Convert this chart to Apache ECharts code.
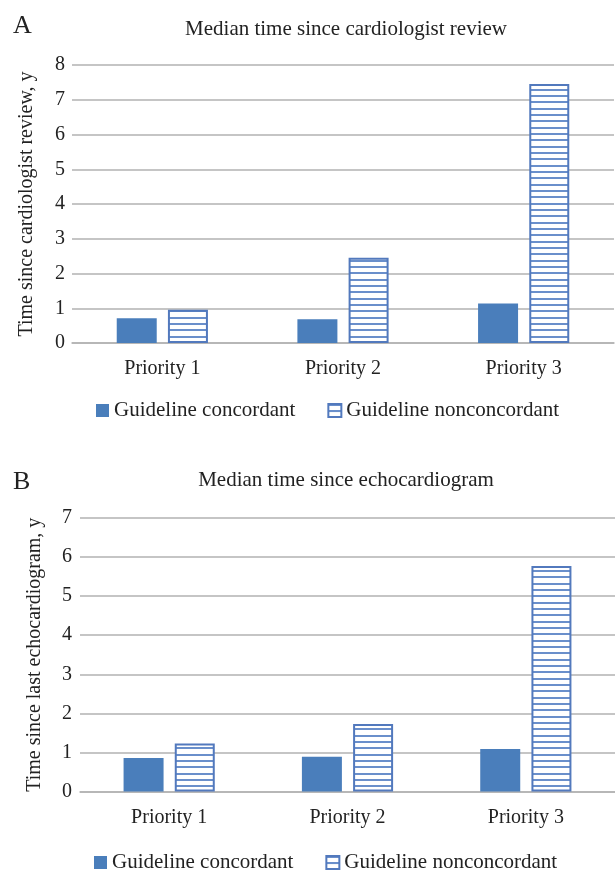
<!DOCTYPE html>
<html>
<head>
<meta charset="utf-8">
<script src="https://cdn.jsdelivr.net/npm/echarts@6/dist/echarts.min.js"></script>
<style>
html,body{margin:0;padding:0;background:#fff;}
#c{width:615px;height:874px;}
</style>
</head>
<body>
<div id="c"></div>
<script>
// ---- data ----
var categories = ['Priority 1', 'Priority 2', 'Priority 3'];
var seriesNames = ['Guideline concordant', 'Guideline nonconcordant'];
var cardioConcordant = [0.71, 0.68, 1.14];
var cardioNonconcordant = [0.96, 2.45, 7.45];
var echoConcordant = [0.86, 0.89, 1.09];
var echoNonconcordant = [1.23, 1.73, 5.77];
var cardioTicks = [0, 8, 1];   // min, max, interval
var echoTicks = [0, 7, 1];
var titleA = 'Median time since cardiologist review';
var titleB = 'Median time since echocardiogram';
var yNameA = 'Time since cardiologist review, y';
var yNameB = 'Time since last echocardiogram, y';

// ---- styles ----
var FONT = '"Liberation Serif", "DejaVu Serif", serif';
var BLUE = '#4a7ebb';
var LINE_BLUE = '#5279bd';
var GRID = '#b2b2b2';
var TXT = '#222';

function hatch() {
  var cv = document.createElement('canvas');
  cv.width = 8; cv.height = 19;
  var ctx = cv.getContext('2d');
  ctx.fillStyle = '#ffffff';
  ctx.fillRect(0, 0, 8, 19);
  ctx.fillStyle = '#6a8fcb';
  ctx.fillRect(0, 0, 8, 2);
  ctx.fillRect(0, 6, 8, 2);
  ctx.fillRect(0, 13, 8, 2);
  return cv;
}
var pattern = {image: hatch(), repeat: 'repeat'};

function yAxis(idx, ticks, name, margin) {
  return {
    type: 'value', gridIndex: idx, min: ticks[0], max: ticks[1], interval: ticks[2],
    name: name, nameLocation: 'middle', nameGap: 35, nameRotate: 90,
    nameTextStyle: {fontFamily: FONT, fontSize: 20, color: TXT},
    axisLine: {show: false}, axisTick: {show: false},
    axisLabel: {fontFamily: FONT, fontSize: 20, color: TXT, margin: margin},
    splitLine: {show: true, lineStyle: {color: GRID, width: 1.5}}
  };
}
function xAxis(idx, margin) {
  return {
    type: 'category', gridIndex: idx, data: categories,
    axisLine: {show: true, lineStyle: {color: GRID, width: 1.5}},
    axisTick: {show: false},
    axisLabel: {fontFamily: FONT, fontSize: 20, color: TXT, margin: margin}
  };
}
function barSeries(idx, name, data, hatched) {
  return {
    type: 'bar', name: name, xAxisIndex: idx, yAxisIndex: idx, data: data,
    barWidth: 40, barGap: '28%',
    itemStyle: hatched ? {color: pattern, borderColor: LINE_BLUE, borderWidth: 2}
                       : {color: BLUE},
    emphasis: {disabled: true}, silent: true, animation: false
  };
}
function legend(left, top) {
  return {
    left: left, top: top, itemWidth: 13, itemHeight: 13, itemGap: 32,
    icon: 'rect',
    data: [{name: seriesNames[0]}, {name: seriesNames[1]}],
    textStyle: {fontFamily: FONT, fontSize: 21, color: TXT},
    selectedMode: false
  };
}

var chart = echarts.init(document.getElementById('c'), null, {renderer: 'canvas'});
var option = {
  animation: false,
  backgroundColor: '#fff',
  title: [
    {text: titleA, left: 341, top: 14, textAlign: 'center',
     textStyle: {fontFamily: FONT, fontSize: 21, fontWeight: 'normal', color: TXT}},
    {text: titleB, left: 341, top: 465, textAlign: 'center',
     textStyle: {fontFamily: FONT, fontSize: 21, fontWeight: 'normal', color: TXT}},
    {text: 'A', left: 8, top: 8,
     textStyle: {fontFamily: FONT, fontSize: 26, fontWeight: 'normal', color: TXT}},
    {text: 'B', left: 8, top: 464,
     textStyle: {fontFamily: FONT, fontSize: 26, fontWeight: 'normal', color: TXT}}
  ],
  grid: [
    {left: 72, right: 1, top: 65, height: 278},
    {left: 80, right: -8, top: 518, height: 273.5}
  ],
  xAxis: [xAxis(0, 16), xAxis(1, 16)],
  yAxis: [yAxis(0, cardioTicks, yNameA, 7), yAxis(1, echoTicks, yNameB, 8)],
  legend: [legend(91, 395), legend(89, 847)],
  series: [
    barSeries(0, seriesNames[0], cardioConcordant, false),
    barSeries(0, seriesNames[1], cardioNonconcordant, true),
    barSeries(1, seriesNames[0], echoConcordant, false),
    barSeries(1, seriesNames[1], echoNonconcordant, true)
  ]
};
chart.setOption(option);
</script>
</body>
</html>
